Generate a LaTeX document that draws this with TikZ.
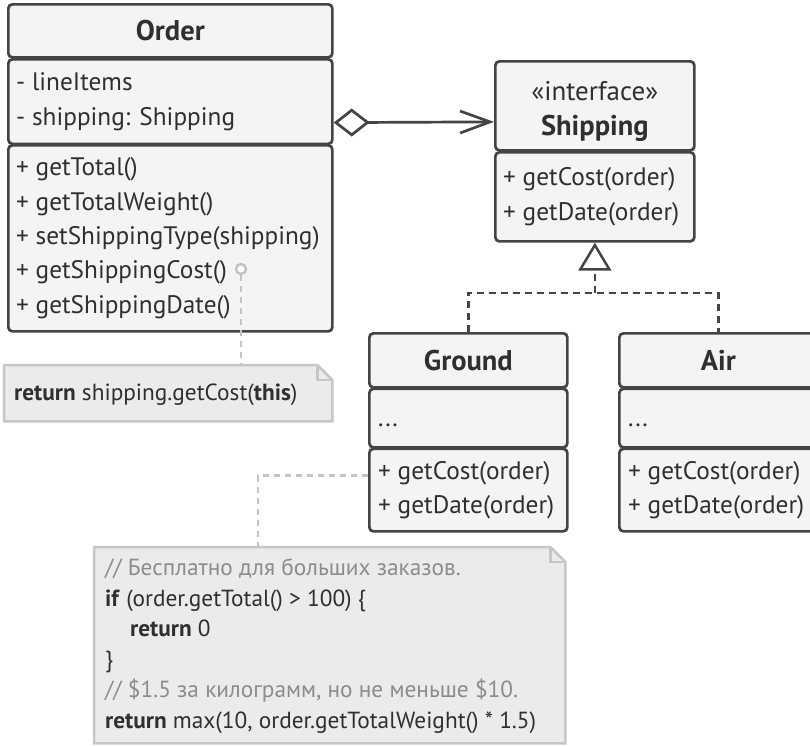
\documentclass[tikz,border=0pt]{standalone}
\usepackage{fontspec}
\setmainfont{PT Sans}
\usetikzlibrary{arrows.meta,calc}
\definecolor{edgec}{HTML}{444444}
\definecolor{boxfill}{HTML}{F4F4F4}
\definecolor{txt}{HTML}{2F2F2F}
\definecolor{notefill}{HTML}{EBEBEB}
\definecolor{noteedge}{HTML}{C6C6C6}
\definecolor{cmt}{HTML}{8C8C8C}
\definecolor{dashc}{HTML}{C4C4C4}
\begin{document}
\begin{tikzpicture}[x=1pt,y=-1pt,
  comp/.style={draw=edgec, fill=boxfill, line width=2.7pt, rounded corners=4pt,
    anchor=north west, inner sep=0pt},
  ctitle/.style={text=txt, inner sep=0pt, font=\fontsize{28.5}{32}\selectfont\bfseries},
  members/.style={text=txt, inner sep=0pt, anchor=west, align=left,
    font=\fontsize{25.3}{34.3}\selectfont},
  notebox/.style={draw=noteedge, fill=notefill, line width=2.5pt},
  notetext/.style={text=txt, inner sep=0pt, anchor=west, align=left,
    font=\fontsize{23.3}{30.6}\selectfont},
  dashline/.style={draw=dashc, line width=2.5pt, dash pattern=on 6pt off 5pt},
  realline/.style={draw=edgec, line width=2.5pt, dash pattern=on 7pt off 5pt},
  assoc/.style={draw=edgec, line width=2.7pt}
]
\useasboundingbox (0,0) rectangle (810,745);

% ---------- Order ----------
\node[comp, minimum width=324pt, minimum height=53pt] (oTitle) at (7,3) {};
\node[comp, minimum width=324pt, minimum height=84.5pt] (oAttr) at (7,58) {};
\node[comp, minimum width=324pt, minimum height=186pt] (oMeth) at (7,144) {};
\node[ctitle] (oName) at (oTitle.center) {Order};
\node[members] (oAttrT) at ([xshift=9pt]oAttr.west) {- lineItems\\- shipping: Shipping};
\node[members] (oMethT) at ([xshift=9pt]oMeth.west) {+ getTotal()\\+ getTotalWeight()\\+ setShippingType(shipping)\\+ getShippingCost()\\+ getShippingDate()};

% ---------- Shipping ----------
\node[comp, minimum width=199pt, minimum height=89pt] (sTitle) at (494,60) {};
\node[comp, minimum width=199pt, minimum height=89pt] (sMeth) at (494,151) {};
\node[text=txt, inner sep=0pt, font=\fontsize{27}{30}\selectfont] (sStereo) at ([yshift=15pt]sTitle.center) {«interface»};
\node[ctitle] (sName) at ([yshift=-22pt]sTitle.center) {Shipping};
\node[members] (sMethT) at ([xshift=9pt]sMeth.west) {+ getCost(order)\\+ getDate(order)};

% ---------- Ground ----------
\node[comp, minimum width=198pt, minimum height=54pt] (gTitle) at (368,332) {};
\node[comp, minimum width=198pt, minimum height=58.5pt] (gAttr) at (368,387.5) {};
\node[comp, minimum width=198pt, minimum height=82.5pt] (gMeth) at (368,447.5) {};
\node[ctitle] (gName) at (gTitle.center) {Ground};
\node[members] (gAttrT) at ([xshift=10pt,yshift=-7pt]gAttr.west) {...};
\node[members] (gMethT) at ([xshift=10pt]gMeth.west) {+ getCost(order)\\+ getDate(order)};

% ---------- Air ----------
\node[comp, minimum width=198pt, minimum height=54pt] (aTitle) at (618,332) {};
\node[comp, minimum width=198pt, minimum height=58.5pt] (aAttr) at (618,387.5) {};
\node[comp, minimum width=198pt, minimum height=82.5pt] (aMeth) at (618,447.5) {};
\node[ctitle] (aName) at (aTitle.center) {Air};
\node[members] (aAttrT) at ([xshift=10pt,yshift=-7pt]aAttr.west) {...};
\node[members] (aMethT) at ([xshift=10pt]aMeth.west) {+ getCost(order)\\+ getDate(order)};

% ---------- Note 1 ----------
\node[inner sep=0pt, minimum width=328pt, minimum height=56pt, anchor=north west] (note1) at (4,365) {};
\draw[notebox] (note1.north west) -- ([xshift=-15pt]note1.north east) -- ([yshift=-15pt]note1.north east)
  -- (note1.south east) -- (note1.south west) -- cycle;
\draw[draw=noteedge, line width=2.5pt] ([xshift=-15pt]note1.north east) -- ([xshift=-15pt,yshift=-15pt]note1.north east) -- ([yshift=-15pt]note1.north east);
\node[notetext] (n1text) at ([xshift=10pt,yshift=-2pt]note1.west) {\textbf{return} shipping.getCost(\textbf{this})};

% ---------- Note 2 ----------
\node[inner sep=0pt, minimum width=471pt, minimum height=196pt, anchor=north west] (note2) at (94,547) {};
\draw[notebox] (note2.north west) -- ([xshift=-15pt]note2.north east) -- ([yshift=-15pt]note2.north east)
  -- (note2.south east) -- (note2.south west) -- cycle;
\draw[draw=noteedge, line width=2.5pt] ([xshift=-15pt]note2.north east) -- ([xshift=-15pt,yshift=-15pt]note2.north east) -- ([yshift=-15pt]note2.north east);
\node[notetext] (n2text) at ([xshift=11pt,yshift=-1pt]note2.west) {{\color{cmt}// Бесплатно для больших заказов.}\\
\textbf{if} (order.getTotal() > 100) \{\\
\hspace*{25pt}\textbf{return} 0\\
\}\\
{\color{cmt}// \$1.5 за килограмм, но не меньше \$10.}\\
\textbf{return} max(10, order.getTotalWeight() * 1.5)};

% ---------- Connectors ----------
\draw[assoc, {Diamond[open, length=36pt, width=28pt]}-{Straight Barb[length=30pt, width=22pt]}]
  ([yshift=-21pt]oAttr.east) -- ([yshift=-16pt]sTitle.west);

\coordinate (junc) at (sMeth.south |- 0,293);
\draw[realline] (gTitle.north) |- (junc) -| (aTitle.north);
\draw[realline, -{Triangle[open, length=28pt, width=33pt]}] (junc) -- (sMeth.south);

\node[circle, draw=dashc, fill=white, line width=2.5pt, minimum size=10pt, inner sep=0pt] (pin) at (241,269) {};
\draw[dashline] (pin.south) -- (pin.south |- note1.north);

\draw[dashline] ([yshift=14.5pt]gMeth.west) -| ([xshift=164pt]note2.north west);
\end{tikzpicture}
\end{document}
